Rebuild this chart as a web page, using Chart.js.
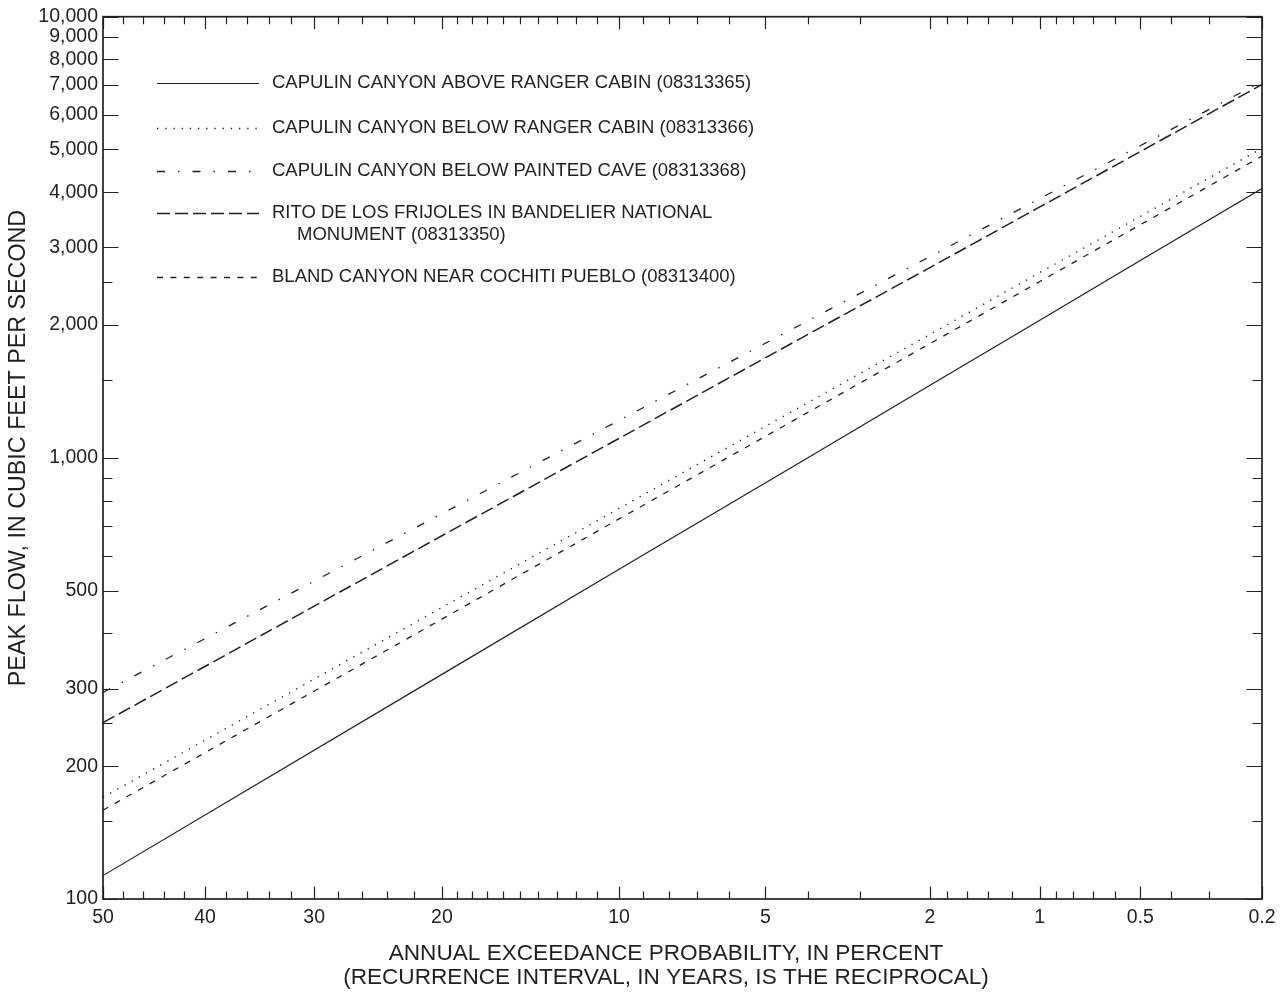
<!DOCTYPE html>
<html>
<head>
<meta charset="utf-8">
<title>Peak flow frequency curves</title>
<script src="https://cdn.jsdelivr.net/npm/chart.js@4.4.1/dist/chart.umd.min.js"></script>
<style>
  body { margin: 0; background: #fff; }
  #wrap { width: 1286px; height: 993px; }
</style>
</head>
<body>
<div id="wrap"><canvas id="freqChart" width="1286" height="993"></canvas></div>
<script>
// annual exceedance probability, percent
const probabilities = [50, 20, 10, 4, 2, 1, 0.5, 0.2];

// peak flow, cubic feet per second
const capulinAbove = [113, 323, 559, 1000, 1460, 2050, 2800, 4080];
const capulinBelowRanger = [170, 458, 768, 1335, 1905, 2630, 3525, 5030];
const capulinPaintedCave = [294, 747, 1216, 2045, 2860, 3870, 5100, 7130];
const ritoFrijoles = [251, 666, 1107, 1905, 2700, 3705, 4945, 7020];
const blandCanyon = [159, 431, 727, 1268, 1815, 2510, 3375, 4830];

const seriesNames = [
  ["CAPULIN CANYON ABOVE RANGER CABIN (08313365)"],
  ["CAPULIN CANYON BELOW RANGER CABIN (08313366)"],
  ["CAPULIN CANYON BELOW PAINTED CAVE (08313368)"],
  ["RITO DE LOS FRIJOLES IN BANDELIER NATIONAL", "MONUMENT (08313350)"],
  ["BLAND CANYON NEAR COCHITI PUEBLO (08313400)"]
];

// axis ticks
const xTickLabels = [50, 40, 30, 20, 10, 5, 2, 1, 0.5, 0.2];
const xMinorTicks = [48, 46, 44, 42, 38, 36, 34, 32, 28, 26, 24, 22, 19, 18, 17, 16, 15, 14, 13, 12, 11,
  9, 8, 7, 6, 4, 3, 1.8, 1.6, 1.4, 1.2, 0.9, 0.8, 0.7, 0.6, 0.4, 0.3];
const yTickLabels = [100, 200, 300, 500, 1000, 2000, 3000, 4000, 5000, 6000, 7000, 8000, 9000, 10000];
const yMinorTicks = [150, 250, 400, 600, 700, 800, 900, 1500, 2500];

const xTitle = ["ANNUAL EXCEEDANCE PROBABILITY, IN PERCENT", "(RECURRENCE INTERVAL, IN YEARS, IS THE RECIPROCAL)"];
const yTitle = "PEAK FLOW, IN CUBIC FEET PER SECOND";

const ink = "#231f20";
const fontFamily = "'Liberation Sans', Arial, Helvetica, sans-serif";

// inverse normal cdf (Acklam), used for the probability axis
function probit(p) {
  const a = [-3.969683028665376e+01, 2.209460984245205e+02, -2.759285104469687e+02, 1.383577518672690e+02, -3.066479806614716e+01, 2.506628277459239e+00];
  const b = [-5.447609879822406e+01, 1.615858368580409e+02, -1.556989798598866e+02, 6.680131188771972e+01, -1.328068155288572e+01];
  const c = [-7.784894002430293e-03, -3.223964580411365e-01, -2.400758277161838e+00, -2.549732539343734e+00, 4.374664141464968e+00, 2.938163982698783e+00];
  const d = [7.784695709041462e-03, 3.224671290700398e-01, 2.445134137142996e+00, 3.754408661907416e+00];
  const pl = 0.02425;
  let q, r;
  if (p < pl) {
    q = Math.sqrt(-2 * Math.log(p));
    return (((((c[0] * q + c[1]) * q + c[2]) * q + c[3]) * q + c[4]) * q + c[5]) / ((((d[0] * q + d[1]) * q + d[2]) * q + d[3]) * q + 1);
  }
  if (p <= 1 - pl) {
    q = p - 0.5;
    r = q * q;
    return (((((a[0] * r + a[1]) * r + a[2]) * r + a[3]) * r + a[4]) * r + a[5]) * q / (((((b[0] * r + b[1]) * r + b[2]) * r + b[3]) * r + b[4]) * r + 1);
  }
  q = Math.sqrt(-2 * Math.log(1 - p));
  return -(((((c[0] * q + c[1]) * q + c[2]) * q + c[3]) * q + c[4]) * q + c[5]) / ((((d[0] * q + d[1]) * q + d[2]) * q + d[3]) * q + 1);
}

function zOf(pct) {
  if (pct === 50) return 0;
  return probit(1 - pct / 100);
}

function toPoints(values) {
  return probabilities.map((p, i) => ({ x: zOf(p), y: values[i] }));
}

const dashes = [[], [1.3, 6.9], [8, 13, 1.5, 13], [13, 5], [6, 7.4]];
const widths = [1.2, 1.4, 1.3, 1.5, 1.3];
const seriesValues = [capulinAbove, capulinBelowRanger, capulinPaintedCave, ritoFrijoles, blandCanyon];

// frame, inward tick marks, axis titles and the legend
const frameAndLegend = {
  id: "frameAndLegend",
  afterDatasetsDraw(chart) {
    const { ctx, chartArea: a, scales: { x, y } } = chart;
    ctx.save();
    ctx.strokeStyle = ink;
    ctx.lineCap = "butt";

    ctx.lineWidth = 1.2;
    ctx.beginPath();
    xTickLabels.concat(xMinorTicks).forEach(function (p) {
      const len = xTickLabels.includes(p) ? 12.5 : 7.5;
      const px = Math.round(x.getPixelForValue(zOf(p))) + 0.5;
      ctx.moveTo(px, a.bottom); ctx.lineTo(px, a.bottom - len);
      ctx.moveTo(px, a.top); ctx.lineTo(px, a.top + len);
    });
    yTickLabels.concat(yMinorTicks).forEach(function (v) {
      const len = yTickLabels.includes(v) ? 15.5 : 9.5;
      const py = Math.round(y.getPixelForValue(v)) + 0.5;
      ctx.moveTo(a.left, py); ctx.lineTo(a.left + len, py);
      ctx.moveTo(a.right, py); ctx.lineTo(a.right - len, py);
    });
    ctx.stroke();

    ctx.lineWidth = 1.7;
    ctx.strokeRect(a.left, a.top, a.right - a.left, a.bottom - a.top);

    // axis titles
    ctx.fillStyle = ink;
    ctx.textBaseline = "middle";
    ctx.textAlign = "center";
    ctx.font = "22.6px " + fontFamily;
    ctx.fillText(xTitle[0], 666, 954);
    ctx.fillText(xTitle[1], 666, 978);
    ctx.save();
    ctx.font = "23.3px " + fontFamily;
    ctx.translate(19, 448);
    ctx.rotate(-Math.PI / 2);
    ctx.fillText(yTitle, 0, 0);
    ctx.restore();

    // legend
    const rows = [83, 128, 171, 213, 277];
    ctx.font = "18.5px " + fontFamily;
    ctx.textAlign = "left";
    rows.forEach(function (ry, i) {
      ctx.lineWidth = widths[i];
      ctx.setLineDash(dashes[i]);
      ctx.beginPath();
      ctx.moveTo(157, ry + 0.5);
      ctx.lineTo(259, ry + 0.5);
      ctx.stroke();
      ctx.setLineDash([]);
      ctx.fillText(seriesNames[i][0], 272, ry);
      if (seriesNames[i][1]) ctx.fillText(seriesNames[i][1], 297, ry + 21.5);
    });
    ctx.restore();
  }
};

const ctx = document.getElementById("freqChart").getContext("2d");
const freqChart = new Chart(ctx, {
  type: "line",
  data: {
    datasets: seriesValues.map(function (vals, i) {
      return {
        label: seriesNames[i].join(" "),
        data: toPoints(vals),
        borderColor: ink,
        borderWidth: widths[i],
        borderDash: dashes[i],
        pointRadius: 0,
        tension: 0,
        fill: false
      };
    })
  },
  options: {
    responsive: false,
    animation: false,
    events: [],
    layout: { padding: { top: 15, right: 24, left: 0, bottom: 0 } },
    plugins: {
      legend: { display: false },
      tooltip: { enabled: false }
    },
    scales: {
      x: {
        type: "linear",
        min: 0,
        max: zOf(0.2),
        grid: { display: false, drawTicks: false },
        border: { display: false },
        afterBuildTicks: function (scale) {
          scale.ticks = xTickLabels.map(p => ({ value: zOf(p) }));
        },
        afterFit: function (scale) { scale.height = 94; },
        ticks: {
          autoSkip: false,
          maxRotation: 0,
          padding: 7,
          color: ink,
          font: { family: fontFamily, size: 19.5 },
          callback: function (value, index) { return String(xTickLabels[index]); }
        }
      },
      y: {
        type: "logarithmic",
        min: 100,
        max: 10000,
        grid: { display: false, drawTicks: false },
        border: { display: false },
        afterBuildTicks: function (scale) {
          scale.ticks = yTickLabels.map(v => ({ value: v }));
        },
        afterFit: function (scale) { scale.width = 103; },
        ticks: {
          autoSkip: false,
          padding: 5,
          color: ink,
          font: { family: fontFamily, size: 19.5 },
          callback: function (value) { return value.toLocaleString("en-US"); }
        }
      }
    }
  },
  plugins: [frameAndLegend]
});
</script>
</body>
</html>
